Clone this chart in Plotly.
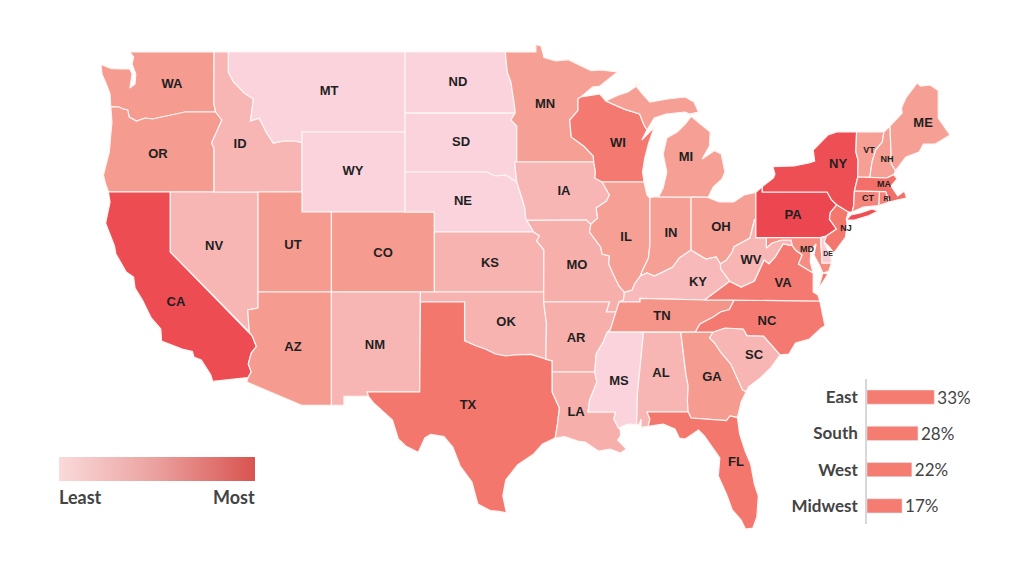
import plotly.graph_objects as go
from plotly.colors import sample_colorscale

# shared borders, (lon, lat)
COLUMBIA = [(-124.05, 46.27), (-123.5, 46.25), (-123.2, 46.15), (-122.9, 46.1), (-122.8, 45.75), (-122.3, 45.55),
            (-121.7, 45.7), (-121.2, 45.65), (-120.6, 45.75), (-119.9, 45.85), (-119.3, 45.93), (-119.0, 46.0), (-116.92, 46.0)]
OR_ID = [(-116.92, 46.0), (-116.5, 45.6), (-116.85, 45.0), (-117.2, 44.45), (-117.03, 44.2), (-117.03, 42.0)]
ID_MT = [(-116.05, 49.0), (-116.05, 47.98), (-115.7, 47.5), (-114.95, 46.93), (-114.35, 46.65), (-114.55, 45.56),
         (-113.95, 45.69), (-113.45, 44.95), (-113.0, 44.45), (-112.3, 44.55), (-111.5, 44.55), (-111.05, 44.47)]
COLORADO_R = [(-114.72, 32.72), (-114.5, 33.0), (-114.7, 33.4), (-114.5, 33.95), (-114.15, 34.27), (-114.43, 34.8), (-114.63, 35.0)]
RED_R = [(-100.0, 34.56), (-99.2, 34.3), (-98.6, 34.15), (-97.9, 33.9), (-97.2, 33.8), (-96.6, 33.85), (-95.5, 33.88), (-94.48, 33.64)]
SABINE = [(-94.04, 31.99), (-93.55, 31.2), (-93.7, 30.3), (-93.84, 29.7)]
MISSOURI_SD = [(-98.5, 43.0), (-97.9, 42.8), (-97.2, 42.85), (-96.45, 42.49)]
MISSOURI_IA = [(-96.45, 42.49), (-96.1, 41.7), (-95.9, 41.2), (-95.85, 40.7), (-95.77, 40.58)]
MISSOURI_MO = [(-95.77, 40.58), (-95.3, 40.0)]
MISSOURI_KS = [(-95.3, 40.0), (-94.9, 39.8), (-95.1, 39.55), (-94.61, 39.11)]
ND_MN = [(-97.23, 49.0), (-97.1, 48.0), (-96.85, 47.5), (-96.6, 46.3), (-96.56, 45.94)]
SD_MN = [(-96.56, 45.94), (-96.85, 45.6), (-96.45, 45.3), (-96.45, 43.5)]
MN_WI = [(-92.29, 46.66), (-92.29, 46.07), (-92.85, 45.6), (-92.75, 44.75), (-91.9, 44.3), (-91.25, 43.8), (-91.22, 43.5)]
MISS_IA_WI = [(-91.22, 43.5), (-91.1, 43.0), (-91.15, 42.7), (-90.65, 42.5)]
MISS_IA_IL = [(-90.65, 42.5), (-90.15, 41.85), (-90.35, 41.55), (-91.05, 41.2), (-90.95, 40.7), (-91.42, 40.38)]
MISS_MO_IL = [(-91.42, 40.38), (-91.5, 40.0), (-90.75, 39.25), (-90.65, 38.9), (-90.15, 38.8), (-90.2, 38.4), (-89.9, 37.9), (-89.5, 37.3), (-89.13, 36.98)]
MISS_KY = [(-89.13, 36.98), (-89.2, 36.6), (-89.5, 36.5)]
MISS_TN_MO = [(-89.5, 36.5), (-89.7, 36.0)]
MISS_TN_AR = [(-89.7, 36.0), (-90.1, 35.1), (-90.3, 34.99)]
MISS_MS_AR = [(-90.3, 34.99), (-90.58, 34.5), (-91.05, 33.9), (-91.15, 33.0)]
MISS_MS_LA = [(-91.15, 33.0), (-91.0, 32.5), (-91.5, 31.6), (-91.6, 31.0)]
PEARL_R = [(-91.6, 31.0), (-89.73, 31.0), (-89.85, 30.65), (-89.55, 30.2)]
OHIO_IL = [(-89.13, 36.98), (-88.6, 37.1), (-88.45, 37.4), (-88.05, 37.8)]
OHIO_IN = [(-88.05, 37.8), (-87.6, 37.95), (-87.1, 37.8), (-86.5, 38.0), (-85.85, 38.25), (-85.4, 38.7), (-84.6, 39.1)]
OHIO_KY = [(-84.6, 39.1), (-84.3, 38.95), (-83.6, 38.65), (-82.9, 38.75), (-82.6, 38.4)]
OHIO_WV = [(-82.6, 38.4), (-82.2, 38.6), (-81.8, 39.0), (-81.7, 39.25), (-80.6, 39.7), (-80.3, 40.6), (-80.2, 40.64)]
KY_WV = [(-82.6, 38.4), (-82.6, 38.17), (-81.97, 37.54)]
VA_WV = [(-81.97, 37.54), (-81.2, 37.25), (-80.3, 37.55), (-79.65, 38.6), (-79.3, 38.42), (-78.87, 38.77), (-78.35, 39.4), (-77.72, 39.32)]
MD_WV = [(-79.48, 39.72), (-79.48, 39.2), (-79.1, 39.45), (-78.45, 39.6), (-77.8, 39.6), (-77.72, 39.32)]
POTOMAC = [(-77.72, 39.32), (-77.5, 39.1), (-77.05, 38.85), (-77.3, 38.4), (-76.3, 37.95)]
SC_GA = [(-83.1, 35.0), (-83.35, 34.7), (-83.0, 34.45), (-82.55, 33.95), (-81.9, 33.4), (-81.4, 32.6), (-81.1, 32.1), (-80.85, 32.03)]
NC_SC = [(-83.1, 35.0), (-82.3, 35.2), (-81.05, 35.15), (-80.8, 34.82), (-79.67, 34.8), (-78.55, 33.86)]
NC_TN = [(-84.32, 34.99), (-84.0, 35.4), (-83.1, 35.75), (-82.6, 36.0), (-82.0, 36.12), (-81.68, 36.59)]
AL_GA = [(-85.3, 34.98), (-84.95, 32.87), (-84.8, 32.3), (-84.85, 31.55), (-84.8, 31.0)]
AL_MS = [(-87.9, 34.99), (-87.85, 34.9), (-88.25, 31.9), (-88.3, 30.37)]
WI_UP = [(-90.4, 46.55), (-89.1, 46.13), (-88.1, 45.9), (-87.8, 45.35), (-87.6, 45.1)]
NY_VT = [(-73.35, 45.0), (-73.4, 44.0), (-73.25, 43.6), (-73.27, 42.75)]
VT_NH = [(-71.5, 45.0), (-71.6, 44.5), (-72.05, 44.1), (-72.3, 43.5), (-72.45, 42.73)]
DE_R = [(-75.4, 39.8), (-74.72, 40.15), (-75.2, 40.65), (-75.13, 40.98), (-74.7, 41.36)]

# state outlines
WA = [(-122.76, 49.0), (-117.03, 49.0), (-117.04, 46.42), (-116.92, 46.0)] + COLUMBIA[::-1] + [
    (-124.1, 46.9), (-124.3, 47.3), (-124.65, 47.9), (-124.72, 48.38), (-124.0, 48.17), (-123.2, 48.15), (-122.75, 48.15),
    (-122.6, 47.9), (-122.75, 47.2), (-122.4, 47.4), (-122.35, 47.9), (-122.6, 48.4), (-122.5, 48.75)]
OR = COLUMBIA + OR_ID + [(-124.21, 42.0), (-124.4, 42.4), (-124.55, 42.84), (-124.4, 43.3), (-124.15, 44.0), (-124.07, 44.7), (-123.97, 45.5)]
CA = [(-124.21, 42.0), (-120.0, 42.0), (-120.0, 39.0), (-114.63, 35.0)] + COLORADO_R[::-1] + [
    (-117.12, 32.53), (-117.25, 32.85), (-117.9, 33.6), (-118.4, 33.75), (-118.5, 34.03), (-119.2, 34.15), (-120.6, 34.55),
    (-120.65, 35.15), (-121.3, 35.7), (-121.9, 36.6), (-122.4, 37.2), (-122.5, 37.75), (-123.0, 38.0), (-123.7, 38.9),
    (-123.8, 39.3), (-124.4, 40.44), (-124.1, 41.5)]
NV = [(-120.0, 42.0), (-114.04, 42.0), (-114.04, 36.2), (-114.74, 36.1), (-114.63, 35.0), (-120.0, 39.0)]
ID = [(-117.03, 49.0)] + ID_MT + [(-111.05, 42.0), (-117.03, 42.0)] + OR_ID[::-1] + [(-117.04, 46.42)]
MT = ID_MT + [(-111.05, 45.0), (-104.05, 45.0), (-104.05, 49.0)]
WY = [(-111.05, 45.0), (-104.05, 45.0), (-104.05, 41.0), (-111.05, 41.0)]
UT = [(-114.04, 42.0), (-111.05, 42.0), (-111.05, 41.0), (-109.05, 41.0), (-109.05, 37.0), (-114.04, 37.0)]
AZ = [(-114.04, 37.0), (-109.05, 37.0), (-109.05, 31.33), (-111.07, 31.33), (-114.81, 32.5)] + COLORADO_R + [(-114.74, 36.1), (-114.04, 36.2)]
CO = [(-109.05, 41.0), (-102.05, 41.0), (-102.05, 37.0), (-109.05, 37.0)]
NM = [(-109.05, 37.0), (-103.0, 37.0), (-103.05, 32.0), (-106.62, 32.0), (-106.53, 31.78), (-108.2, 31.78), (-108.2, 31.33), (-109.05, 31.33)]
ND = [(-104.05, 49.0)] + ND_MN + [(-104.05, 45.94)]
SD = [(-104.05, 45.94)] + SD_MN + [(-96.6, 43.5)] + MISSOURI_SD[::-1] + [(-104.05, 43.0)]
NE = [(-104.05, 43.0)] + MISSOURI_SD + MISSOURI_IA + MISSOURI_MO + [(-102.05, 40.0), (-102.05, 41.0), (-104.05, 41.0)]
KS = [(-102.05, 40.0)] + MISSOURI_KS + [(-94.62, 37.0), (-102.05, 37.0)]
OK = [(-103.0, 37.0), (-94.62, 37.0), (-94.62, 36.5), (-94.43, 35.4)] + RED_R[::-1] + [(-100.0, 36.5), (-103.0, 36.5)]
TX = [(-103.0, 36.5), (-100.0, 36.5)] + RED_R + [(-94.04, 33.55)] + SABINE + [
    (-94.7, 29.4), (-95.3, 28.9), (-96.4, 28.35), (-97.2, 27.6), (-97.4, 26.8), (-97.15, 25.96), (-97.65, 26.03), (-98.25, 26.07),
    (-99.1, 26.4), (-99.5, 27.5), (-100.3, 28.3), (-100.8, 29.25), (-101.4, 29.77), (-102.3, 29.88), (-102.7, 29.7), (-103.15, 28.98),
    (-104.0, 29.3), (-104.5, 29.65), (-104.9, 30.6), (-106.2, 31.47), (-106.53, 31.78), (-106.62, 32.0), (-103.05, 32.0)]
MN = [(-97.23, 49.0), (-95.15, 49.0), (-95.15, 49.38), (-94.8, 49.3), (-94.6, 48.72), (-93.8, 48.55), (-92.95, 48.62), (-92.0, 48.3),
      (-91.4, 48.07), (-90.75, 48.1), (-89.6, 48.0), (-90.8, 47.3), (-91.3, 47.25), (-92.1, 46.75)] + MN_WI + SD_MN[::-1] + ND_MN[::-1]
IA = [(-96.45, 43.5)] + MN_WI[-1:] + MISS_IA_WI + MISS_IA_IL + [(-91.72, 40.6)] + MISSOURI_IA[::-1] + [(-96.6, 43.5)]
MO = [(-95.77, 40.58), (-91.72, 40.6)] + MISS_MO_IL + MISS_KY + MISS_TN_MO + [(-90.37, 36.0), (-90.15, 36.5), (-94.62, 36.5), (-94.62, 37.0)] + MISSOURI_KS[::-1] + MISSOURI_MO[::-1]
AR = [(-94.62, 36.5), (-90.15, 36.5), (-90.37, 36.0)] + MISS_TN_AR + MISS_MS_AR + [(-94.04, 33.0), (-94.04, 33.55), (-94.48, 33.64), (-94.43, 35.4)]
LA = [(-94.04, 33.0)] + MISS_MS_LA + PEARL_R + [(-89.4, 30.05), (-89.4, 29.8), (-89.6, 29.6), (-89.0, 29.15), (-89.4, 28.95), (-90.1, 29.15),
      (-90.9, 29.05), (-91.8, 29.5), (-92.3, 29.55), (-93.2, 29.77)] + SABINE[::-1]
WI = [(-92.1, 46.75), (-90.8, 46.9)] + WI_UP + [(-87.95, 44.6), (-87.1, 45.25), (-87.5, 44.4), (-87.75, 43.7), (-87.9, 43.0), (-87.8, 42.5)] + MISS_IA_WI[::-1] + MN_WI[::-1]
IL = [(-90.65, 42.5), (-87.8, 42.5), (-87.6, 41.85), (-87.4, 41.7), (-87.4, 39.35), (-87.5, 38.7), (-87.95, 38.0)] + OHIO_IL[::-1] + MISS_MO_IL[::-1] + MISS_IA_IL[::-1]
IN = [(-87.4, 41.7), (-87.2, 41.75), (-86.8, 41.76), (-84.6, 41.76)] + OHIO_IN[::-1] + [(-87.95, 38.0), (-87.5, 38.7), (-87.4, 39.35)]
MI_LOWER = [(-86.8, 41.76), (-84.6, 41.76), (-83.45, 41.73), (-83.1, 42.25), (-82.5, 42.65), (-82.3, 43.0), (-82.55, 43.9), (-83.0, 44.07),
            (-83.85, 43.65), (-83.35, 44.3), (-83.3, 45.0), (-84.6, 45.78), (-85.0, 45.4), (-85.55, 45.0), (-86.25, 44.7), (-86.5, 43.9),
            (-86.25, 43.0), (-86.5, 42.2)]
MI_UPPER = WI_UP + [(-87.1, 45.7), (-86.3, 45.9), (-85.0, 46.0), (-84.7, 45.9), (-84.1, 46.0), (-84.4, 46.5), (-85.0, 46.75), (-86.2, 46.65),
                    (-87.4, 46.5), (-87.9, 46.9), (-88.4, 47.35), (-88.0, 47.45), (-88.9, 47.0), (-89.6, 46.83)]
OH = [(-84.6, 41.76), (-83.45, 41.73), (-82.7, 41.5), (-81.7, 41.5), (-81.0, 41.85), (-80.2, 41.98)] + OHIO_WV[::-1] + OHIO_KY[::-1]
KY = OHIO_IL + OHIO_IN + OHIO_KY + KY_WV + [(-83.68, 36.6), (-88.07, 36.68), (-88.07, 36.5), (-89.5, 36.5), (-89.2, 36.6)]
TN = [(-90.3, 34.99), (-87.9, 34.99), (-85.3, 34.98)] + NC_TN + [(-83.68, 36.6), (-88.07, 36.68), (-88.07, 36.5)] + MISS_TN_MO + MISS_TN_AR[:-1]
MS = [(-90.3, 34.99)] + AL_MS + [(-88.9, 30.4)] + PEARL_R[::-1] + MISS_MS_LA[::-1] + MISS_MS_AR[::-1]
AL = AL_MS + [(-88.15, 30.35), (-88.0, 30.65), (-88.0, 30.23), (-87.52, 30.28), (-87.4, 30.65), (-87.6, 31.0)] + AL_GA[::-1]
GA = AL_GA + [(-84.6, 30.7), (-82.2, 30.57), (-81.95, 30.8), (-81.45, 30.72), (-81.2, 31.5)] + SC_GA[::-1] + [(-84.32, 34.99)]
FL = [(-87.6, 31.0), (-84.8, 31.0), (-84.6, 30.7), (-82.2, 30.57), (-81.95, 30.8), (-81.45, 30.72), (-81.3, 29.9), (-80.9, 29.0), (-80.55, 28.4),
      (-80.3, 27.4), (-80.03, 26.8), (-80.13, 25.75), (-80.4, 25.2), (-80.9, 25.15), (-81.2, 25.6), (-81.8, 26.1), (-82.2, 26.9), (-82.75, 27.8),
      (-82.65, 28.7), (-83.1, 29.15), (-83.7, 29.8), (-84.1, 30.1), (-85.0, 29.65), (-85.4, 29.7), (-85.7, 30.15), (-86.5, 30.4), (-87.52, 30.28), (-87.4, 30.65)]
SC = NC_SC + [(-79.2, 33.2), (-79.9, 32.7), (-80.7, 32.25)] + SC_GA[::-1]
NC = NC_TN + [(-75.85, 36.55), (-75.5, 35.3), (-75.75, 35.2), (-76.55, 34.65), (-77.5, 34.45), (-77.95, 33.9)] + NC_SC[::-1]
VA = [(-83.68, 36.6)] + VA_WV + POTOMAC + [(-76.3, 37.0), (-75.98, 36.85), (-75.85, 36.55), (-81.68, 36.59)]
VA_SHORE = [(-75.95, 37.15), (-75.3, 37.9), (-75.65, 37.95)]
WV = [(-80.2, 40.64), (-80.2, 39.72)] + MD_WV + VA_WV[::-1] + KY_WV[::-1] + OHIO_WV
PA = [(-80.2, 41.98), (-79.9, 42.15), (-79.76, 42.27), (-79.76, 42.0), (-75.35, 42.0), (-75.05, 41.6)] + DE_R[::-1] + [(-75.79, 39.72), (-80.2, 39.72), (-80.2, 40.64)]
MD = [(-79.48, 39.72), (-75.79, 39.72), (-75.7, 38.46), (-75.05, 38.45), (-75.25, 38.03), (-75.65, 37.95), (-75.85, 38.3), (-76.25, 38.85), (-76.1, 39.4),
      (-76.45, 39.1), (-76.5, 38.5), (-76.3, 37.95)] + POTOMAC[::-1] + MD_WV[::-1]
DE = [(-75.79, 39.72), (-75.4, 39.8), (-75.55, 39.45), (-75.1, 38.8), (-75.05, 38.45), (-75.7, 38.46)]
NJ = [(-74.7, 41.36), (-73.9, 41.0), (-74.05, 40.65), (-74.0, 40.45), (-74.1, 39.75), (-74.9, 38.95), (-75.2, 39.25), (-75.55, 39.5)] + DE_R
NY = [(-79.76, 42.27), (-79.0, 42.7), (-78.9, 42.9), (-79.05, 43.27), (-77.6, 43.3), (-76.6, 43.45), (-76.2, 43.55), (-76.3, 44.1), (-75.3, 44.85), (-74.7, 45.0)] + NY_VT + [
    (-73.5, 42.05), (-73.55, 41.3), (-73.65, 41.0), (-73.9, 41.0), (-74.7, 41.36), (-75.05, 41.6), (-75.35, 42.0), (-79.76, 42.0)]
LONG_ISLAND = [(-74.05, 40.6), (-73.75, 40.85), (-73.1, 40.95), (-72.3, 41.15), (-71.9, 41.05), (-72.5, 40.82), (-73.5, 40.6)]
VT = NY_VT + VT_NH[::-1]
NH = VT_NH + [(-71.3, 42.7), (-70.82, 42.87), (-70.7, 43.07), (-70.98, 43.4), (-71.08, 45.3)]
ME = [(-71.08, 45.3), (-70.4, 45.8), (-70.25, 45.95), (-70.3, 46.2), (-70.0, 46.7), (-69.23, 47.46), (-69.0, 47.3), (-68.35, 47.35), (-67.8, 47.07),
      (-67.8, 45.7), (-67.45, 45.3), (-67.0, 44.85), (-68.0, 44.4), (-68.8, 44.4), (-69.1, 44.0), (-70.0, 43.75), (-70.7, 43.07), (-70.98, 43.4)]
MA = [(-73.5, 42.05), (-73.27, 42.75), (-72.45, 42.73), (-71.3, 42.7), (-70.82, 42.87), (-70.6, 42.65), (-71.0, 42.3), (-70.55, 41.8), (-70.1, 42.05),
      (-69.95, 41.7), (-70.6, 41.6), (-71.12, 41.5), (-71.38, 42.02), (-71.8, 42.02)]
RI = [(-71.8, 42.02), (-71.38, 42.02), (-71.12, 41.5), (-71.85, 41.32)]
CT = [(-73.5, 42.05), (-71.8, 42.02), (-71.85, 41.32), (-72.9, 41.25), (-73.65, 41.0), (-73.55, 41.3)]

STATE_SHAPES = {
    "WA": [WA], "OR": [OR], "CA": [CA], "NV": [NV], "ID": [ID], "MT": [MT], "WY": [WY], "UT": [UT], "AZ": [AZ], "CO": [CO],
    "NM": [NM], "ND": [ND], "SD": [SD], "NE": [NE], "KS": [KS], "OK": [OK], "TX": [TX], "MN": [MN], "IA": [IA], "MO": [MO],
    "AR": [AR], "LA": [LA], "WI": [WI], "IL": [IL], "IN": [IN], "MI": [MI_LOWER, MI_UPPER], "OH": [OH], "KY": [KY], "TN": [TN],
    "MS": [MS], "AL": [AL], "GA": [GA], "FL": [FL], "SC": [SC], "NC": [NC], "VA": [VA, VA_SHORE], "WV": [WV], "PA": [PA],
    "MD": [MD], "DE": [DE], "NJ": [NJ], "NY": [NY, LONG_ISLAND], "VT": [VT], "NH": [NH], "ME": [ME], "MA": [MA], "RI": [RI], "CT": [CT],
}

# shade of each state, least = 0, most = 1
state_codes = ["WA", "OR", "CA", "NV", "ID", "MT", "WY", "UT", "AZ", "CO", "NM", "ND", "SD", "NE", "KS", "OK", "TX", "MN", "IA", "MO",
               "AR", "LA", "WI", "IL", "IN", "MI", "OH", "KY", "TN", "MS", "AL", "GA", "FL", "SC", "NC", "VA", "WV", "PA",
               "MD", "DE", "NJ", "NY", "VT", "NH", "ME", "MA", "RI", "CT"]
state_shades = [0.45, 0.45, 0.97, 0.25, 0.25, 0.0, 0.0, 0.45, 0.45, 0.45, 0.25, 0.0, 0.0, 0.0, 0.27, 0.27, 0.7, 0.42, 0.25, 0.3,
                0.3, 0.3, 0.68, 0.42, 0.42, 0.42, 0.42, 0.22, 0.5, 0.0, 0.25, 0.45, 0.7, 0.25, 0.68, 0.68, 0.25, 1.0,
                0.55, 0.05, 0.7, 0.95, 0.42, 0.42, 0.42, 0.75, 0.6, 0.6]

# label anchors
label_lon = [-119.89, -120.84, -119.62, -117.03, -115.26, -109.21, -107.58, -111.66, -111.66, -105.54, -106.09, -100.45, -100.24, -100.11, -98.27, -97.18, -99.77, -94.53, -93.24, -92.36,
             -92.42, -92.42, -89.57, -89.02, -85.97, -84.95, -82.57, -84.13, -86.58, -89.5, -86.65, -83.18, -81.55, -80.32, -79.44, -78.35, -80.53, -77.67,
             -76.72, -75.29, -74.07, -74.61, -72.5, -71.28, -68.83, -71.48, -71.28, -72.57]
label_lat = [47.35, 43.85, 36.45, 39.25, 44.35, 47.0, 43.0, 39.3, 34.2, 38.9, 34.3, 47.45, 44.45, 41.5, 38.4, 35.45, 31.3, 46.35, 42.0, 38.3,
             34.65, 30.95, 44.4, 39.7, 39.9, 43.7, 40.2, 37.45, 35.75, 32.5, 32.9, 32.7, 28.45, 33.8, 35.5, 37.4, 38.55, 40.8,
             39.1, 38.9, 40.15, 43.35, 44.05, 43.6, 45.4, 42.35, 41.65, 41.65]
label_sizes = [13, 13, 13, 13, 13, 13, 13, 13, 13, 13, 13, 13, 13, 13, 13, 13, 13, 13, 13, 13,
               13, 13, 13, 13, 13, 13, 13, 13, 13, 13, 13, 13, 13, 13, 13, 13, 13, 13,
               9, 7, 9, 13, 9, 9, 13, 9, 7, 9]

map_scale = [[0.0, "#fad3dc"], [0.25, "#f7b6b4"], [0.45, "#f59b90"], [0.7, "#f4776e"], [1.0, "#ec4750"]]
legend_scale = [[0.0, "#fadada"], [0.5, "#eaa09e"], [1.0, "#d9534f"]]

# region panel
regions = ["East", "South", "West", "Midwest"]
bar_lengths = [33, 25, 22, 17.2]
bar_labels = ["33%", "28%", "22%", "17%"]

W, H = 1024, 561


def outline(parts):
    xs, ys = [], []
    for part in parts:
        if xs:
            xs.append(None)
            ys.append(None)
        xs += [p[0] for p in part] + [part[0][0]]
        ys += [p[1] for p in part] + [part[0][1]]
    return xs, ys


fig = go.Figure()

for code, shade in zip(state_codes, state_shades):
    xs, ys = outline(STATE_SHAPES[code])
    fig.add_trace(go.Scatter(x=xs, y=ys, name=code, mode="lines", fill="toself",
                             fillcolor=sample_colorscale(map_scale, [shade])[0],
                             line=dict(color="#fff5f3", width=1.2), hoverinfo="name", showlegend=False))

fig.add_trace(go.Scatter(x=label_lon, y=label_lat, text=state_codes, mode="text", hoverinfo="skip", showlegend=False,
                         textfont=dict(family="Liberation Sans", size=label_sizes, color="#1f1f1f", weight="bold")))

# gradient key
fig.add_trace(go.Scatter(x=[None, None], y=[None, None], mode="markers", hoverinfo="skip", showlegend=False,
                         marker=dict(color=[0, 1], colorscale=legend_scale, showscale=True,
                                     colorbar=dict(orientation="h", x=59 / W, xanchor="left", y=1 - 481 / H, yanchor="bottom",
                                                   len=196 / W, lenmode="fraction", thickness=24, thicknessmode="pixels",
                                                   xpad=0, ypad=0, outlinewidth=0, ticks="", showticklabels=False))))

fig.add_trace(go.Bar(x=bar_lengths, y=regions, orientation="h", xaxis="x2", yaxis="y2", width=0.39, marker_color="#f47c70",
                     text=bar_labels, textposition="outside", cliponaxis=False, constraintext="none", showlegend=False,
                     textfont=dict(family="Lato", size=17, color="#444444")))

fig.add_annotation(x=59 / W, y=1 - 497 / H, xref="paper", yref="paper", text="<b>Least</b>", showarrow=False, xanchor="left", yanchor="middle",
                   xshift=-2, font=dict(family="Lato", size=18, color="#444444"))
fig.add_annotation(x=255 / W, y=1 - 497 / H, xref="paper", yref="paper", text="<b>Most</b>", showarrow=False, xanchor="right", yanchor="middle",
                   xshift=2, font=dict(family="Lato", size=18, color="#444444"))

fig.update_layout(
    width=W, height=H, margin=dict(l=0, r=0, t=0, b=0), paper_bgcolor="white", plot_bgcolor="white",
    xaxis=dict(range=[-131.58, -61.97], visible=False, domain=[0, 1]),
    yaxis=dict(range=[23.55, 51.6], visible=False, domain=[0, 1]),
    xaxis2=dict(range=[0, 77], visible=False, domain=[867 / W, 1], anchor="y2"),
    yaxis2=dict(autorange="reversed", domain=[1 - 524 / H, 1 - 379 / H], anchor="x2", showline=True, linecolor="#d5d8da", linewidth=1.5,
                ticks="", showgrid=False, ticklabelstandoff=4,
                tickfont=dict(family="Lato", size=17, color="#444444", weight="bold")),
)

fig.write_html("out.html", config={"displayModeBar": False}, post_script="document.body.style.margin='0';")
